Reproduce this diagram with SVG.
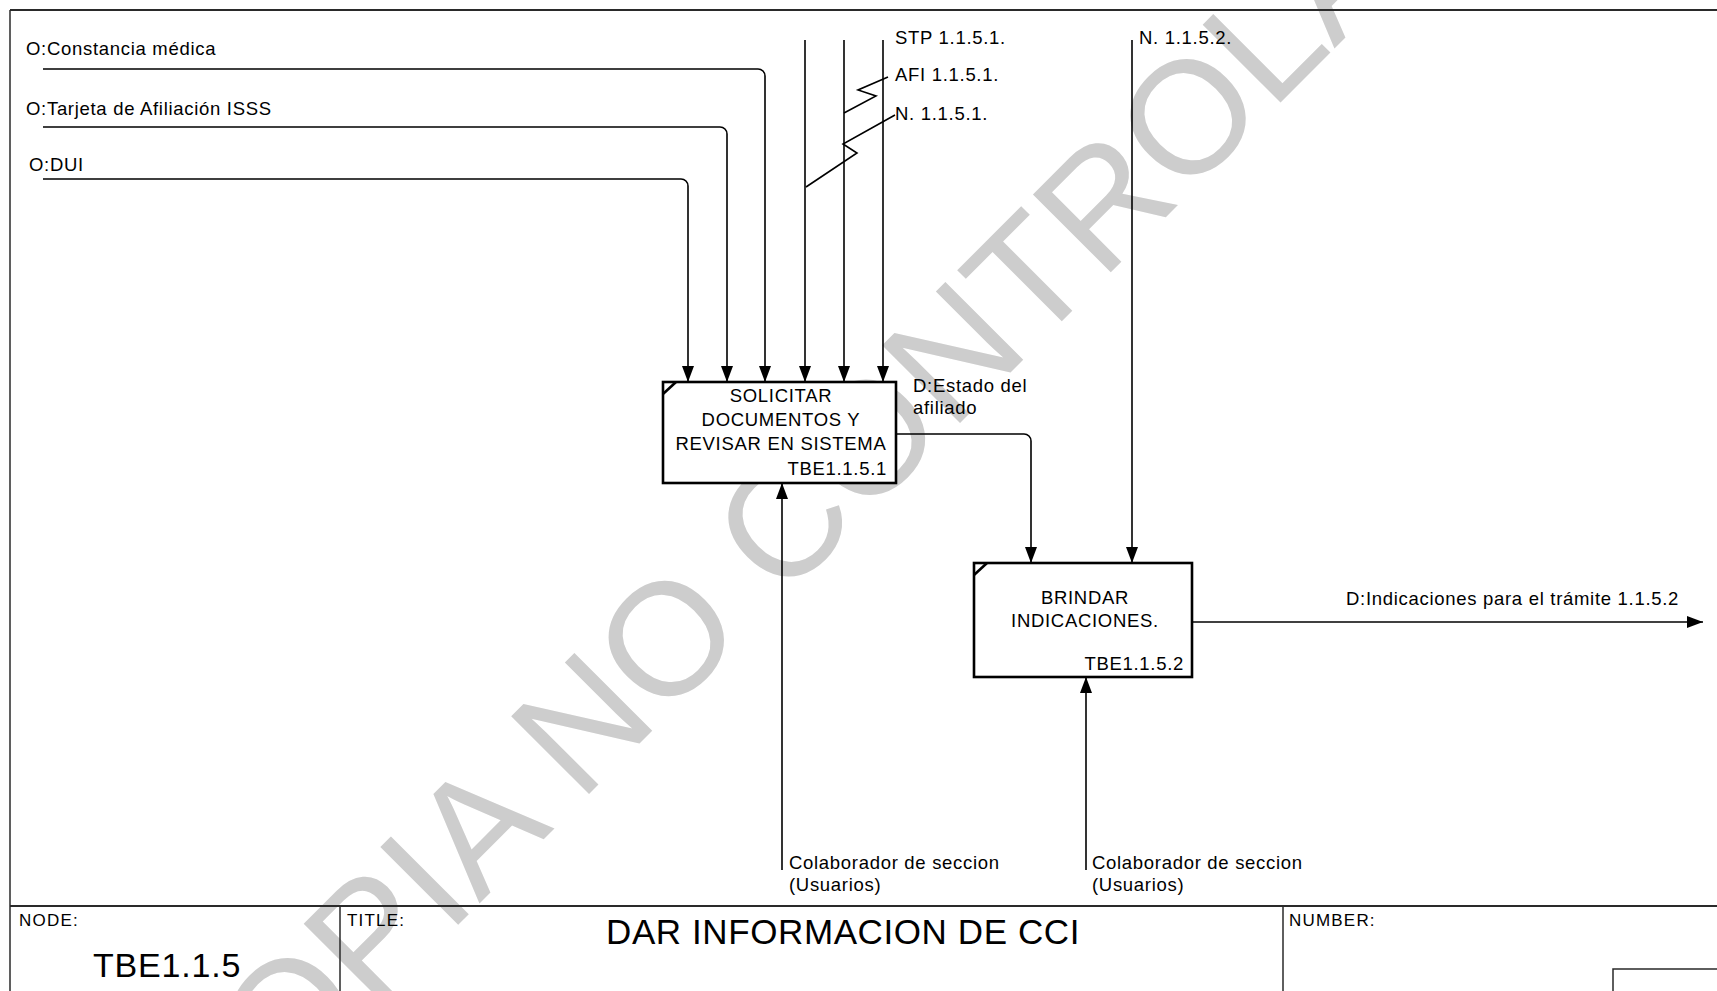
<svg xmlns="http://www.w3.org/2000/svg" width="1717" height="991" viewBox="0 0 1717 991">
<style>
text { font-family: "Liberation Sans", Arial, sans-serif; fill: #000; }
.lbl { font-size: 18.5px; letter-spacing: 0.7px; }
.bx { font-size: 18.5px; letter-spacing: 0.7px; text-anchor: middle; }
.bxn { font-size: 18.5px; letter-spacing: 0.7px; text-anchor: end; }
.tb { font-size: 17px; letter-spacing: 1.2px; }
.wm { font-size: 160px; fill: #cdcdcd; }
.con { fill: none; stroke: #000; stroke-width: 1.6; }
.arr { marker-end: url(#ah); }
.node { fill: #fff; stroke: #000; stroke-width: 2.6; }
.frame { fill: none; stroke: #2a2a2a; }
</style>
<defs>
<marker id="ah" viewBox="0 0 16 12" refX="16" refY="6" markerWidth="16" markerHeight="12" markerUnits="userSpaceOnUse" orient="auto">
<path d="M0,0 L16,6 L0,12 z" fill="#000"/>
</marker>
</defs>
<rect x="0" y="0" width="1717" height="991" fill="#fff"/>

<g id="watermark">
<text class="wm" transform="translate(202.6,1180.4) rotate(-45)">COPIA NO CONTROLADA</text>
</g>

<g id="frame">
<line class="frame" x1="10" y1="10" x2="1717" y2="10" stroke-width="2"/>
<line class="frame" x1="10" y1="10" x2="10" y2="991" stroke-width="1.5"/>
<line class="frame" x1="10" y1="906" x2="1717" y2="906" stroke-width="2.2"/>
<line class="frame" x1="340" y1="906" x2="340" y2="991" stroke-width="1.5"/>
<line class="frame" x1="1283" y1="906" x2="1283" y2="991" stroke-width="1.5"/>
<polyline class="frame" points="1613,991 1613,969 1717,969" stroke-width="1.5"/>
<text class="tb" x="19" y="926">NODE:</text>
<text class="tb" x="347" y="926">TITLE:</text>
<text class="tb" x="1289" y="926">NUMBER:</text>
<text x="93" y="977" style="font-size:34px;letter-spacing:0.8px">TBE1.1.5</text>
<text x="606" y="944" style="font-size:35px;letter-spacing:0.6px">DAR INFORMACION DE CCI</text>
</g>

<g id="connectors">
<path class="con arr" d="M43,69 H758 A7,7 0 0 1 765,76 V382"/>
<path class="con arr" d="M43,127 H720 A7,7 0 0 1 727,134 V382"/>
<path class="con arr" d="M43,179 H681 A7,7 0 0 1 688,186 V382"/>
<line class="con arr" x1="805" y1="40" x2="805" y2="382"/>
<line class="con arr" x1="844" y1="40" x2="844" y2="382"/>
<line class="con arr" x1="883" y1="40" x2="883" y2="382"/>
<polyline class="con" points="888,77 858,90 876,96 844,113"/>
<polyline class="con" points="895,115 843,144 857,153 806,187"/>
<path class="con arr" d="M896,434 H1024 A7,7 0 0 1 1031,441 V563"/>
<line class="con arr" x1="1132" y1="40" x2="1132" y2="563"/>
<line class="con arr" x1="1192" y1="622" x2="1703" y2="622"/>
<line class="con arr" x1="782" y1="870" x2="782" y2="483"/>
<line class="con arr" x1="1086" y1="870" x2="1086" y2="677"/>
<text class="lbl" x="26" y="55">O:Constancia médica</text>
<text class="lbl" x="26" y="115">O:Tarjeta de Afiliación ISSS</text>
<text class="lbl" x="29" y="171">O:DUI</text>
<text class="lbl" x="895" y="44">STP 1.1.5.1.</text>
<text class="lbl" x="895" y="81">AFI 1.1.5.1.</text>
<text class="lbl" x="895" y="120">N. 1.1.5.1.</text>
<text class="lbl" x="1139" y="44">N. 1.1.5.2.</text>
<text class="lbl" x="913" y="392">D:Estado del</text>
<text class="lbl" x="913" y="414">afiliado</text>
<text class="lbl" x="1346" y="605">D:Indicaciones para el trámite 1.1.5.2</text>
<text class="lbl" x="789" y="869">Colaborador de seccion</text>
<text class="lbl" x="789" y="891">(Usuarios)</text>
<text class="lbl" x="1092" y="869">Colaborador de seccion</text>
<text class="lbl" x="1092" y="891">(Usuarios)</text>
</g>

<g id="node-TBE1.1.5.1">
<rect class="node" x="663" y="382" width="233" height="101"/>
<line x1="663" y1="394" x2="676" y2="382" stroke="#000" stroke-width="2.6"/>
<text class="bx" x="781" y="402">SOLICITAR</text>
<text class="bx" x="781" y="426">DOCUMENTOS Y</text>
<text class="bx" x="781" y="450">REVISAR EN SISTEMA</text>
<text class="bxn" x="887" y="475">TBE1.1.5.1</text>
</g>

<g id="node-TBE1.1.5.2">
<rect class="node" x="974" y="563" width="218" height="114"/>
<line x1="974" y1="575" x2="987" y2="563" stroke="#000" stroke-width="2.6"/>
<text class="bx" x="1085" y="604">BRINDAR</text>
<text class="bx" x="1085" y="627">INDICACIONES.</text>
<text class="bxn" x="1184" y="670">TBE1.1.5.2</text>
</g>
</svg>
